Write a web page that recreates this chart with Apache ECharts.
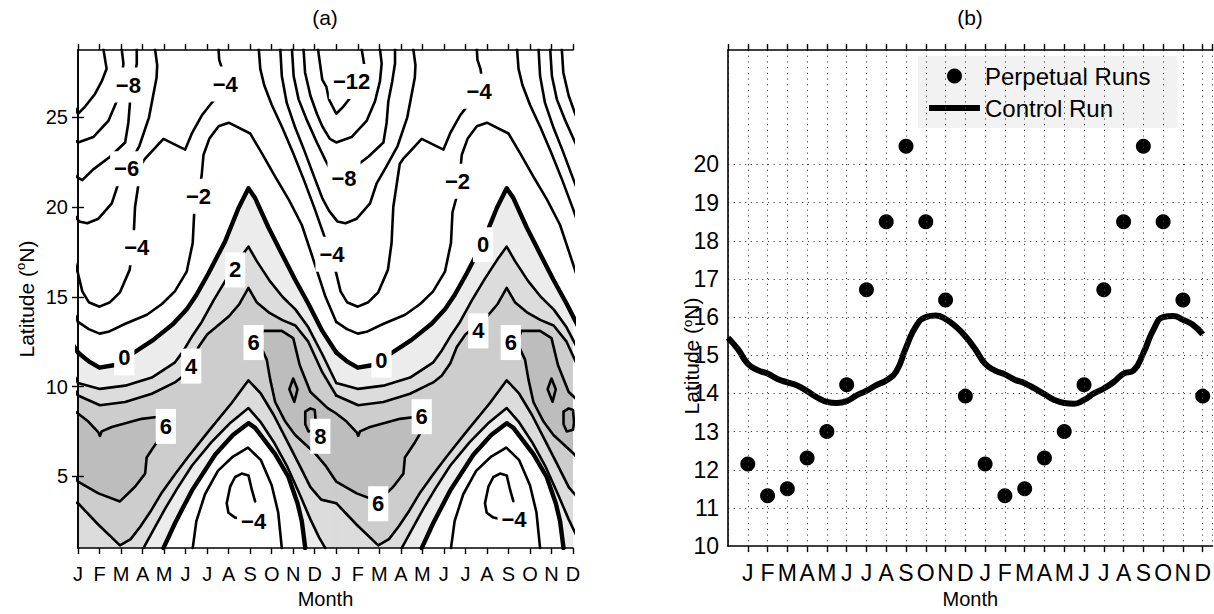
<!DOCTYPE html>
<html>
<head>
<meta charset="utf-8">
<script src="https://cdn.jsdelivr.net/npm/echarts@6/dist/echarts.min.js"></script>
<style>
html, body { margin: 0; padding: 0; background: #fff; }
#main { width: 1214px; height: 614px; }
</style>
</head>
<body>
<div id="main"></div>
<script>
var monthLetters = ['J', 'F', 'M', 'A', 'M', 'J', 'J', 'A', 'S', 'O', 'N', 'D'];
var latTicksA = [5, 10, 15, 20, 25];
var latLabelsB = [10, 11, 12, 13, 14, 15, 16, 17, 18, 19, 20];
// the climatology in (a) is drawn twice, so every contour is repeated each 12 months
var periodShifts = [-12, 0, 12, 24];

// (b) perpetual runs, one per month, and the control run
var perpetualMonth = [1, 2, 3, 4, 5, 6, 7, 8, 9, 10, 11, 12, 13, 14, 15, 16, 17, 18, 19, 20, 21, 22, 23, 24];
var perpetualLat = [12.15, 11.32, 11.5, 12.31, 13.0, 14.23, 16.72, 18.5, 20.48, 18.5, 16.45, 13.93,
                    12.15, 11.32, 11.5, 12.31, 13.0, 14.23, 16.72, 18.5, 20.48, 18.5, 16.45, 13.93];
var controlMonth = [0, 0.5, 1, 1.5, 2, 2.5, 3, 3.5, 4, 4.5, 5, 5.5, 6, 6.5, 7, 7.5, 8, 8.5, 9, 9.5, 10, 10.5, 11, 11.5,
                    12, 12.5, 13, 13.5, 14, 14.5, 15, 15.5, 16, 16.5, 17, 17.5, 18, 18.5, 19, 19.5, 20, 20.5, 21, 21.5,
                    22, 22.5, 23, 23.5, 24];
var controlLat = [15.46, 15.16, 14.78, 14.61, 14.52, 14.38, 14.29, 14.21, 14.06, 13.9, 13.78, 13.75, 13.8, 13.95,
                  14.07, 14.22, 14.34, 14.57, 15.2, 15.76, 16.0, 16.04, 15.95, 15.76, 15.5, 15.16, 14.78, 14.6,
                  14.5, 14.36, 14.27, 14.13, 13.98, 13.83, 13.75, 13.73, 13.83, 14.0, 14.13, 14.3, 14.52, 14.6,
                  15.06, 15.66, 16.0, 16.03, 15.93, 15.8, 15.55];

// (a) contour lines, [month, latitude], one instance per 12-month period
var contourM12 = [[-0.85, 28.8], [-0.65, 27.1], [-0.46, 26.7], [-0.34, 26.0], [0, 25.2], [0.33, 25.6], [0.79, 26.3],
                  [1.1, 27.0], [1.33, 27.7], [1.18, 28.8]];
var contourM10 = [[-1.52, 28.8], [-1.45, 27.5], [-1.2, 26.2], [-0.9, 25.2], [-0.65, 24.5], [-0.3, 23.8], [0, 23.6],
                  [0.71, 23.9], [1.41, 24.8], [1.8, 25.9], [2.03, 27.0], [2.11, 28.0], [2.03, 28.8]];
var contourM8 = [[-2.06, 28.8], [-1.98, 27.3], [-1.75, 26.0], [-1.35, 24.8], [-0.9, 23.6], [-0.5, 22.6], [-0.1, 21.7],
                 [0.2, 21.5], [0.71, 22.1], [1.49, 22.8], [2.19, 23.6], [2.34, 24.7], [2.42, 25.9], [2.6, 27.0],
                 [2.73, 28.0], [2.73, 28.8]];
var contourM6 = [[-2.6, 28.8], [-2.53, 27.3], [-2.3, 25.8], [-1.9, 24.4], [-1.5, 23.2], [-1.0, 21.6], [-0.65, 20.5],
                 [-0.34, 19.8], [0.05, 19.2], [0.43, 19.1], [0.95, 19.35], [1.57, 20.2], [1.87, 21.3], [2.3, 22.2],
                 [2.85, 23.4], [3.3, 25.0], [3.65, 27.2], [3.68, 27.9], [3.58, 28.8]];
var contourM4 = [[-3.6, 28.8], [-3.53, 27.7], [-3.35, 26.8], [-3.0, 25.7], [-2.5, 24.4], [-2.0, 23.0], [-1.5, 21.5],
                 [-1.0, 19.9], [-0.65, 18.7], [-0.3, 17.5], [0, 16.3], [0.2, 15.3], [0.5, 14.7], [1.0, 14.45],
                 [1.49, 14.7], [1.95, 15.25], [2.4, 16.5], [2.57, 18.0], [2.65, 20.0], [2.8, 21.2], [2.95, 22.4],
                 [3.12, 22.7], [3.97, 23.8], [4.98, 23.2], [5.29, 24.1], [5.75, 25.1], [6.14, 25.7], [6.5, 26.2],
                 [6.8, 26.9], [6.7, 27.7], [6.56, 28.2], [6.53, 28.8]];
var contourM2 = [[0, 13.6], [0.5, 13.2], [1.0, 12.95], [1.41, 13.05], [2.2, 13.5], [3.2, 14.0], [3.9, 14.6],
                 [4.5, 15.3], [5.05, 16.4], [5.33, 18.0], [5.4, 19.7], [5.6, 20.6], [5.75, 21.8], [5.83, 22.9],
                 [6.1, 23.8], [6.53, 24.5], [7.0, 24.7], [8.0, 24.1], [8.54, 23.0], [9.16, 21.7], [9.8, 20.4],
                 [10.4, 19.0], [10.9, 17.2], [11.5, 15.0], [12, 13.6]];
var contour0Upper = [[0, 11.9], [0.5, 11.4], [1.0, 11.05], [1.72, 11.2], [2.57, 11.87], [3.5, 12.6], [4.43, 13.5],
                     [5.05, 14.3], [5.5, 15.1], [6.06, 16.3], [6.84, 18.1], [7.46, 19.95], [7.92, 21.05], [8.23, 20.5],
                     [8.85, 18.86], [9.47, 17.4], [10.09, 15.95], [10.71, 14.6], [11.35, 13.1], [12, 11.9]];
var contour2Upper = [[0, 10.2], [1.02, 9.87], [2.19, 10.05], [3.43, 10.5], [4.51, 11.35], [4.9, 12.0], [5.3, 12.8],
                     [5.75, 13.6], [6.3, 14.8], [6.9, 16.0], [7.5, 17.1], [7.92, 17.8], [8.3, 17.0], [8.9, 15.9],
                     [9.5, 15.0], [10.1, 14.3], [10.7, 13.3], [11.35, 11.8], [12, 10.2]];
var contour4Upper = [[0, 9.5], [1.02, 8.96], [2.19, 9.14], [3.43, 9.6], [4.5, 10.23], [4.9, 10.6], [5.3, 11.3],
                     [5.6, 12.2], [6.0, 12.9], [6.5, 13.4], [7.0, 13.9], [7.5, 14.6], [7.92, 15.5], [8.3, 14.7],
                     [8.9, 14.1], [9.5, 13.7], [10.1, 13.4], [10.7, 12.5], [11.35, 10.8], [12, 9.5]];
// closed 6 contour round the darker band, Sep to the next Apr
var contour6Band = [[8.45, 12.6], [8.6, 13.1], [9.47, 13.1], [10.0, 12.7], [10.3, 11.2], [10.8, 9.7], [11.6, 8.8],
                    [12, 8.5], [12.48, 8.05], [12.95, 7.45], [13.02, 7.25], [13.1, 7.5], [13.57, 7.75], [14.96, 8.2],
                    [15.66, 8.3], [16.1, 7.8], [15.66, 6.9], [15.19, 6.05], [15.12, 5.15], [14.65, 4.42],
                    [13.95, 3.6], [12.95, 4.05], [12, 4.7], [11.5, 5.6], [11.0, 6.3], [10.09, 7.3], [9.63, 8.05],
                    [9.16, 9.14], [8.93, 10.4], [8.77, 11.5], [8.5, 12.2]];
var contour8Diamond = [[10.0, 10.45], [10.2, 9.85], [10.05, 9.15], [9.82, 9.85], [10.0, 10.45]];
var contour8Loop = [[10.56, 8.6], [10.8, 8.78], [11.0, 8.7], [11.05, 8.0], [11.0, 7.6], [10.71, 7.5], [10.56, 7.9],
                    [10.56, 8.6]];
var contour4Lower = [[0, 3.5], [0.95, 2.3], [1.95, 1.15], [2.45, 1.5], [2.9, 2.2], [3.4, 3.1], [3.9, 4.1], [4.5, 5.1],
                     [5.13, 6.1], [6.06, 7.5], [7.15, 9.1], [7.92, 10.35], [8.5, 9.6], [9.1, 8.4], [9.7, 7.0],
                     [10.3, 5.6], [10.8, 4.4], [11.3, 3.7], [12, 3.5]];
var contour2Lower = [[3.04, 1.0], [3.5, 2.0], [4.05, 3.2], [4.6, 4.3], [5.3, 5.6], [6.2, 6.9], [7.1, 8.0], [7.92, 8.8],
                     [8.5, 8.0], [9.1, 6.9], [9.7, 5.6], [10.3, 4.0], [10.8, 2.6], [11.2, 1.6], [11.49, 1.0]];
var contour0Lower = [[3.97, 1.0], [4.51, 2.4], [5.29, 4.2], [6.37, 6.2], [7.2, 7.3], [7.92, 7.96], [8.23, 7.7],
                     [9.16, 6.24], [9.78, 4.96], [10.2, 3.5], [10.4, 2.5], [10.56, 1.0]];
var contourM2Lower = [[5.33, 1.0], [5.5, 2.5], [5.9, 4.0], [6.5, 5.3], [7.2, 6.1], [7.9, 6.6], [8.5, 5.9], [9.0, 4.5],
                      [9.3, 3.0], [9.47, 1.0]];
var contourM4Loop = [[8.23, 3.6], [8.08, 4.24], [7.92, 5.05], [7.61, 5.15], [7.3, 4.96], [7.07, 4.42], [6.91, 3.5],
                     [6.99, 2.97], [7.3, 2.7], [7.69, 2.6]];

// contour labels of (a), placed where they sit in the picture
var labelMonth = [2.34, 2.26, 2.73, 6.84, 5.6, 7.3, 2.15, 5.26, 4.08, 8.16, 8.16, 11.26,
                  12.71, 12.36, 11.8, 18.64, 17.63, 18.82, 14.1, 15.97, 13.95, 18.6, 20.11, 20.26];
var labelLat = [26.8, 22.13, 17.73, 26.85, 20.6, 16.5, 11.6, 11.14, 7.78, 12.45, 2.5, 7.23,
                27.0, 21.6, 17.37, 26.45, 21.44, 17.9, 11.47, 8.32, 3.47, 13.1, 12.45, 2.57];
var labelText = ['\u22128', '\u22126', '\u22124', '\u22124', '\u22122', '2', '0', '4', '6', '6', '\u22124', '8',
                 '\u221212', '\u22128', '\u22124', '\u22124', '\u22122', '0', '0', '6', '6', '4', '6', '\u22124'];

var FONT = 'Liberation Sans, Arial, Helvetica, sans-serif';
var shade0 = '#ececec', shade2 = '#dcdcdc', shade4 = '#cdcdcd', shade6 = '#bdbdbd', shade8 = '#b2b2b2';

function under(pts) {
  var a = pts[0], b = pts[pts.length - 1];
  return pts.concat([[b[0] + 0.03, b[1]], [b[0] + 0.03, -3], [a[0] - 0.03, -3], [a[0] - 0.03, a[1]]]);
}
function closed(pts) { return pts.concat([pts[0]]); }

var fillLayers = [
  { pts: under(contour0Upper), color: shade0 },
  { pts: under(contour2Upper), color: shade2 },
  { pts: under(contour4Upper), color: shade4 },
  { pts: contour6Band, color: shade6 },
  { pts: contour8Diamond, color: shade8 },
  { pts: contour8Loop, color: shade8 },
  { pts: under(contour4Lower), color: shade2 },
  { pts: under(contour2Lower), color: shade0 },
  { pts: under(contour0Lower), color: '#ffffff' }
];
var fillItems = [];
fillLayers.forEach(function (layer) {
  periodShifts.forEach(function (dx) {
    fillItems.push({ pts: layer.pts, color: layer.color, dx: dx });
  });
});

var THIN = 2.6, THICK = 4.4;
var lineDefs = [
  { pts: contourM12, w: THIN }, { pts: contourM10, w: THIN }, { pts: contourM8, w: THIN },
  { pts: contourM6, w: THIN }, { pts: contourM4, w: THIN }, { pts: contourM2, w: THIN },
  { pts: contour0Upper, w: THICK }, { pts: contour2Upper, w: THIN }, { pts: contour4Upper, w: THIN },
  { pts: closed(contour6Band), w: THIN }, { pts: contour8Diamond, w: THIN }, { pts: contour8Loop, w: THIN },
  { pts: contour4Lower, w: THIN }, { pts: contour2Lower, w: THIN }, { pts: contour0Lower, w: THICK },
  { pts: contourM2Lower, w: THIN }, { pts: contourM4Loop, w: THIN }
];

var series = [];
series.push({
  type: 'custom',
  coordinateSystem: 'cartesian2d',
  xAxisIndex: 0, yAxisIndex: 0,
  clip: true, silent: true, z: 1,
  data: fillItems.map(function () { return [1, 2]; }),
  renderItem: function (params, api) {
    var f = fillItems[params.dataIndex];
    var pts = f.pts.map(function (p) { return api.coord([p[0] + f.dx, p[1]]); });
    return { type: 'polygon', shape: { points: pts }, style: { fill: f.color, stroke: f.color, lineWidth: 0.6 } };
  }
});
lineDefs.forEach(function (d) {
  periodShifts.forEach(function (dx) {
    series.push({
      type: 'line', xAxisIndex: 0, yAxisIndex: 0, silent: true, z: 3,
      symbol: 'none', showSymbol: false, clip: true, animation: false,
      lineStyle: { color: '#000', width: d.w, join: 'round', cap: 'round' },
      data: d.pts.map(function (p) { return [p[0] + dx, p[1]]; })
    });
  });
});
series.push({
  type: 'custom', coordinateSystem: 'cartesian2d', xAxisIndex: 0, yAxisIndex: 0, silent: true, z: 6,
  data: labelMonth.map(function (m, i) { return [m, labelLat[i]]; }),
  renderItem: function (params, api) {
    var pt = api.coord([api.value(0), api.value(1)]);
    return {
      type: 'text', x: pt[0], y: pt[1],
      style: {
        text: labelText[params.dataIndex], fill: '#000', font: 'bold 22px ' + FONT,
        align: 'center', verticalAlign: 'middle', backgroundColor: '#fff', padding: [7, 4, 6, 4]
      }
    };
  }
});

// (b)
series.push({
  name: 'Control Run', type: 'line', xAxisIndex: 2, yAxisIndex: 2, z: 4,
  symbol: 'none', showSymbol: false, smooth: true,
  lineStyle: { color: '#000', width: 6 }, itemStyle: { color: '#000' },
  data: controlMonth.map(function (m, i) { return [m, controlLat[i]]; })
});
series.push({
  name: 'Perpetual Runs', type: 'scatter', xAxisIndex: 2, yAxisIndex: 2, z: 5,
  symbol: 'circle', symbolSize: 15, itemStyle: { color: '#000', opacity: 1 },
  data: perpetualMonth.map(function (m, i) { return [m, perpetualLat[i]]; }),
  markLine: {
    silent: true, symbol: ['none', 'none'], label: { show: false },
    lineStyle: { color: '#444', width: 1, type: [1.2, 4.5] },
    data: latLabelsB.slice(1).map(function (v) { return { yAxis: v }; })
  }
});

var frameLine = { show: true, lineStyle: { color: '#000', width: 1.6 } };
var outTick = { show: true, inside: false, length: 6, lineStyle: { color: '#000', width: 1.4 } };

var option = {
  animation: false,
  backgroundColor: '#fff',
  grid: [
    { left: 78, top: 50, width: 495, height: 509 },
    { left: 728, top: 50, width: 486, height: 509 }
  ],
  legend: {
    orient: 'vertical', left: 918, top: 56,
    backgroundColor: '#f2f2f2', padding: [7, 27, 7, 11],
    itemWidth: 51, itemHeight: 15, itemGap: 6,
    textStyle: { fontFamily: FONT, fontSize: 24, color: '#000', lineHeight: 26 },
    data: [
      { name: 'Perpetual Runs', icon: 'circle', itemStyle: { color: '#000', opacity: 1 } },
      { name: 'Control Run', icon: 'path://M0,0H50V6H0Z', itemStyle: { color: '#000' } }
    ]
  },
  xAxis: [
    {
      gridIndex: 0, type: 'value', min: 0, max: 23, interval: 1, position: 'bottom', z: 10,
      axisLine: frameLine, axisTick: outTick, splitLine: { show: false },
      axisLabel: {
        fontFamily: FONT, fontSize: 20, color: '#000', margin: 16,
        formatter: function (v) { return monthLetters[v % 12]; }
      },
      name: 'Month', nameLocation: 'middle', nameGap: 37,
      nameTextStyle: { fontFamily: FONT, fontSize: 20, color: '#000' }
    },
    {
      gridIndex: 0, type: 'value', min: 0, max: 23, interval: 1, position: 'top', z: 10,
      axisLine: frameLine, axisTick: outTick, axisLabel: { show: false }, splitLine: { show: false }
    },
    {
      gridIndex: 1, type: 'value', min: 0, max: 24.5, interval: 1, position: 'bottom', z: 10,
      axisLine: frameLine, axisTick: outTick,
      splitLine: { show: true, lineStyle: { color: '#444', width: 1, type: [1.2, 4.5] } },
      axisLabel: {
        fontFamily: FONT, fontSize: 23, color: '#000', margin: 15,
        showMinLabel: false, showMaxLabel: false,
        formatter: function (v) { return (v >= 1 && v <= 24 && v % 1 === 0) ? monthLetters[(v - 1) % 12] : ''; }
      },
      name: 'Month', nameLocation: 'middle', nameGap: 37,
      nameTextStyle: { fontFamily: FONT, fontSize: 20, color: '#000' }
    },
    {
      gridIndex: 1, type: 'value', min: 0, max: 24.5, interval: 1, position: 'top', z: 10,
      axisLine: frameLine, axisTick: outTick, axisLabel: { show: false }, splitLine: { show: false }
    }
  ],
  yAxis: [
    {
      gridIndex: 0, type: 'value', min: 1, max: 28.75, position: 'left', z: 10,
      axisLine: frameLine, splitLine: { show: false },
      axisTick: { show: true, inside: false, length: 6, lineStyle: { color: '#000', width: 1.4 }, customValues: latTicksA },
      axisLabel: { fontFamily: FONT, fontSize: 20, color: '#000', margin: 10, customValues: latTicksA },
      name: 'Latitude ({sup|o}N)', nameLocation: 'middle', nameGap: 40, nameRotate: 90,
      nameTextStyle: { fontFamily: FONT, fontSize: 21, color: '#000', lineHeight: 24,
                       rich: { sup: { fontFamily: FONT, fontSize: 13, verticalAlign: 'top', lineHeight: 13 } } }
    },
    {
      gridIndex: 0, type: 'value', min: 1, max: 28.75, position: 'right', z: 10,
      axisLine: frameLine, splitLine: { show: false },
      axisTick: { show: true, inside: false, length: 6, lineStyle: { color: '#000', width: 1.4 }, customValues: latTicksA },
      axisLabel: { show: false }
    },
    {
      gridIndex: 1, type: 'value', min: 10, max: 23, interval: 1, position: 'left', z: 10,
      axisLine: frameLine, axisTick: { show: false }, splitLine: { show: false },
      axisLabel: {
        fontFamily: FONT, fontSize: 23, color: '#000', margin: 9,
        formatter: function (v) { return v <= 20 ? String(v) : ''; }
      }
    }
  ],
  graphic: [
    { type: 'text', x: 325, y: 17, style: { text: '(a)', font: '21px ' + FONT, fill: '#000', align: 'center', verticalAlign: 'middle' } },
    { type: 'text', x: 970, y: 17, style: { text: '(b)', font: '21px ' + FONT, fill: '#000', align: 'center', verticalAlign: 'middle' } },
    {
      type: 'text', x: 691, y: 356, rotation: Math.PI / 2,
      style: {
        text: 'Latitude ({sup|o}N)', font: '21px ' + FONT, fill: '#000', align: 'center', verticalAlign: 'middle',
        rich: { sup: { fontFamily: FONT, fontSize: 13, verticalAlign: 'top', lineHeight: 13 } }
      }
    }
  ],
  series: series
};

var chart = echarts.init(document.getElementById('main'), null, { renderer: 'svg' });
chart.setOption(option);
</script>
</body>
</html>
